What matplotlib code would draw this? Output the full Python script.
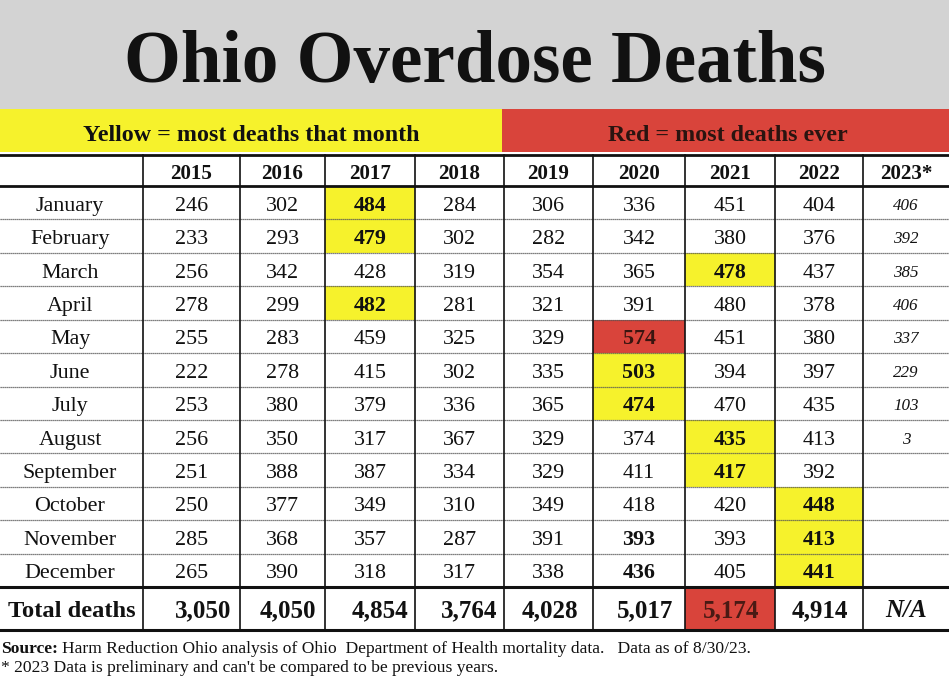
import matplotlib
matplotlib.use("Agg")
from matplotlib import pyplot as plt
from matplotlib.patches import Rectangle

plt.rcParams['font.family'] = ['Liberation Serif', 'DejaVu Serif']

months = ["January", "February", "March", "April", "May", "June", "July",
          "August", "September", "October", "November", "December"]
years = ["2015", "2016", "2017", "2018", "2019", "2020", "2021", "2022", "2023*"]

d2015 = [246, 233, 256, 278, 255, 222, 253, 256, 251, 250, 285, 265]
d2016 = [302, 293, 342, 299, 283, 278, 380, 350, 388, 377, 368, 390]
d2017 = [484, 479, 428, 482, 459, 415, 379, 317, 387, 349, 357, 318]
d2018 = [284, 302, 319, 281, 325, 302, 336, 367, 334, 310, 287, 317]
d2019 = [306, 282, 354, 321, 329, 335, 365, 329, 329, 349, 391, 338]
d2020 = [336, 342, 365, 391, 574, 503, 474, 374, 411, 418, 393, 436]
d2021 = [451, 380, 478, 480, 451, 394, 470, 435, 417, 420, 393, 405]
d2022 = [404, 376, 437, 378, 380, 397, 435, 413, 392, 448, 413, 441]
d2023 = [406, 392, 385, 406, 337, 229, 103, 3, None, None, None, None]
columns = [d2015, d2016, d2017, d2018, d2019, d2020, d2021, d2022, d2023]

totals = ["3,050", "4,050", "4,854", "3,764", "4,028", "5,017", "5,174", "4,914", "N/A"]

# (month index, year index)
yellow_cells = [(0, 2), (1, 2), (3, 2), (2, 6), (5, 5), (6, 5), (7, 6), (8, 6),
                (9, 7), (10, 7), (11, 7)]
red_cells = [(4, 5)]
bold_cells = [(10, 5), (11, 5)]
red_total = 6

YELLOW = "#f6f22c"
RED = "#d9443b"
GRAY = "#d3d3d3"

# layout in pixels
col_edges = [0, 143, 240, 325, 415, 504, 593, 685, 775, 863, 949]
total_dx = [12, 5, 10, 10, 1, 6, 1.5, 1, 0]
head_top, head_bot = 155, 186
row_h = (587 - 186) / 12
tot_top, tot_bot = 587, 630

fig = plt.figure(figsize=(9.49, 6.76), dpi=100)
ax = fig.add_axes([0, 0, 1, 1])
ax.set_xlim(0, 949)
ax.set_ylim(676, 0)
ax.axis('off')

def pt(px):
    return px * 72 / 100

# title band
ax.add_patch(Rectangle((0, 0), 949, 109, color=GRAY, lw=0))
ax.text(475, 82, "Ohio Overdose Deaths", ha='center', va='baseline',
        fontsize=pt(73), fontweight='bold', color='#111111')

# legend band
ax.add_patch(Rectangle((0, 109), 502, 43, color=YELLOW, lw=0))
ax.add_patch(Rectangle((502, 109), 447, 43, color=RED, lw=0))
ax.text(251, 141, "Yellow = most deaths that month", ha='center', va='baseline',
        fontsize=pt(24), fontweight='bold', color='#111111')
ax.text(728, 141, "Red = most deaths ever", ha='center', va='baseline',
        fontsize=pt(24), fontweight='bold', color='#2a1410')

def row_top(i):
    return head_bot + i * row_h

# cell fills
for cells, colr in [(yellow_cells, YELLOW), (red_cells, RED)]:
    for (r, c) in cells:
        x0, x1 = col_edges[c + 1], col_edges[c + 2]
        ax.add_patch(Rectangle((x0, row_top(r)), x1 - x0, row_h, color=colr, lw=0))
x0, x1 = col_edges[red_total + 1], col_edges[red_total + 2]
ax.add_patch(Rectangle((x0, tot_top), x1 - x0, tot_bot - tot_top, color=RED, lw=0))

# header
for j, y in enumerate(years):
    cx = (col_edges[j + 1] + col_edges[j + 2]) / 2
    ax.text(cx, 179, y, ha='center', va='baseline', fontsize=pt(21),
            fontweight='bold', color='#111111')

# body
for i, m in enumerate(months):
    base = row_top(i) + row_h / 2 + 8
    ax.text(70, base, m, ha='center', va='baseline', fontsize=pt(22), color='#111111')
    for j, col in enumerate(columns):
        v = col[i]
        if v is None:
            continue
        cx = (col_edges[j + 1] + col_edges[j + 2]) / 2
        if j == 8:
            ax.text(cx, base - 1, str(v), ha='center', va='baseline', fontsize=pt(17),
                    style='italic', color='#111111')
            continue
        hl = (i, j) in yellow_cells or (i, j) in red_cells or (i, j) in bold_cells
        colr = '#3a1510' if (i, j) in red_cells else '#111111'
        ax.text(cx, base, str(v), ha='center', va='baseline', fontsize=pt(22),
                fontweight='bold' if hl else 'normal', color=colr)

# totals
tb = (tot_top + tot_bot) / 2 + 8.5
ax.text(8, tb, "Total deaths", ha='left', va='baseline', fontsize=pt(24.5),
        fontweight='bold', color='#111111')
for j, t in enumerate(totals):
    cx = (col_edges[j + 1] + col_edges[j + 2]) / 2 + total_dx[j]
    colr = '#4a1a14' if j == red_total else '#111111'
    ax.text(cx, tb, t, ha='center', va='baseline', fontsize=pt(25), fontweight='bold',
            style='italic' if t == "N/A" else 'normal', color=colr)

# grid lines
for i in range(1, 12):
    ax.plot([0, 949], [row_top(i), row_top(i)], color='#555555', lw=0.9, ls=(0, (1, 0.6)))
for y, lw in [(head_top, 2.0), (head_bot, 2.0), (tot_top, 2.2), (tot_bot, 2.2)]:
    ax.plot([0, 949], [y, y], color='#111111', lw=lw)
for x in col_edges[1:-1]:
    ax.plot([x, x], [head_top, tot_bot], color='#111111', lw=1.2)

# footnotes
ax.text(1, 653, "Source:", ha='left', va='baseline', fontsize=pt(17.5),
        fontweight='bold', color='#111111')
ax.text(62, 653, "Harm Reduction Ohio analysis of Ohio  Department of Health mortality data.   "
        "Data as of 8/30/23.", ha='left', va='baseline', fontsize=pt(17.5), color='#111111')
ax.text(1, 672, "* 2023 Data is preliminary and can't be compared to be previous years.",
        ha='left', va='baseline', fontsize=pt(17.5), color='#111111')

fig.savefig("out.png", dpi=100)
